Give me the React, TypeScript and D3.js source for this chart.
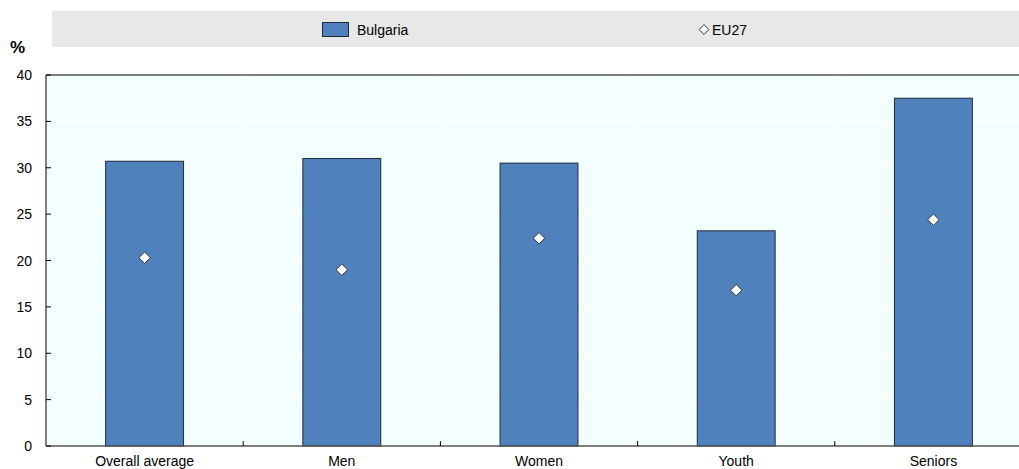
import React from "react";
import * as d3 from "d3";

const categories = ["Overall average", "Men", "Women", "Youth", "Seniors"];
const bulgaria = [30.7, 31.0, 30.5, 23.2, 37.5];
const eu27 = [20.3, 19.0, 22.4, 16.8, 24.4];
const yTicks = [0, 5, 10, 15, 20, 25, 30, 35, 40];

const W = 1019;
const H = 469;
const left = 46;
const right = 1032;
const top = 75;
const bottom = 446;
const font = "'Liberation Sans', Arial, sans-serif";

export default function App() {
  const x = d3.scaleBand<string>().domain(categories).range([left, right]).paddingInner(0).paddingOuter(0);
  const y = d3.scaleLinear().domain([0, 40]).range([bottom, top]);
  const bw = x.bandwidth() * 0.395;
  const diamond = d3.symbol().type(d3.symbolDiamond2).size(85)();
  const legendDiamond = d3.symbol().type(d3.symbolDiamond2).size(60)();

  return (
    <svg width={W} height={H} style={{ position: "absolute", left: 0, top: 0, background: "#fff" }} fontFamily={font}>
      <rect x={52} y={11} width={W - 52} height={36} fill="#e8e8e8" />
      <rect x={322.5} y={22.5} width={26} height={14} fill="#4f81bd" stroke="#1f2a38" strokeWidth={1} />
      <text x={357} y={34.5} fontSize={14} fill="#000">Bulgaria</text>
      <path d={legendDiamond} transform="translate(704,29.5)" fill="#fff" stroke="#333" strokeWidth={1} />
      <text x={712} y={34.5} fontSize={14} fill="#000">EU27</text>

      <text x={10} y={53} fontSize={17} fontWeight="bold" fill="#000">%</text>

      <rect x={left} y={top} width={right - left} height={bottom - top} fill="#f3ffff" />
      {yTicks.map((t) => (
        <line key={"g" + t} x1={left} x2={right} y1={y(t)} y2={y(t)} stroke="#ffffff" strokeWidth={1.2} />
      ))}
      {categories.slice(1).map((c) => (
        <line key={"v" + c} x1={x(c)!} x2={x(c)!} y1={top} y2={bottom} stroke="#ffffff" strokeWidth={1.2} />
      ))}

      {categories.map((c, i) => {
        const cx = x(c)! + x.bandwidth() / 2;
        return (
          <rect key={"b" + c} x={cx - bw / 2} y={y(bulgaria[i])} width={bw} height={bottom - y(bulgaria[i])}
            fill="#4f81bd" stroke="#1f2a38" strokeWidth={1} />
        );
      })}
      {categories.map((c, i) => {
        const cx = x(c)! + x.bandwidth() / 2;
        return (
          <path key={"d" + c} d={diamond} transform={`translate(${cx},${y(eu27[i])})`} fill="#fff" stroke="#333" strokeWidth={1} />
        );
      })}

      <line x1={left} x2={W} y1={top} y2={top} stroke="#555" strokeWidth={1.5} />
      <line x1={left} x2={left} y1={top} y2={bottom} stroke="#000" strokeWidth={1} />
      <line x1={left} x2={W} y1={bottom} y2={bottom} stroke="#555" strokeWidth={1.5} />

      {yTicks.map((t) => (
        <g key={"t" + t}>
          <line x1={left} x2={left + 5} y1={y(t)} y2={y(t)} stroke="#000" strokeWidth={1} />
          <text x={32} y={y(t) + 5} fontSize={14} textAnchor="end" fill="#000">{t}</text>
        </g>
      ))}
      {categories.slice(1).map((c) => (
        <line key={"ct" + c} x1={x(c)!} x2={x(c)!} y1={bottom} y2={bottom - 5} stroke="#000" strokeWidth={1} />
      ))}
      {categories.map((c) => (
        <text key={"l" + c} x={x(c)! + x.bandwidth() / 2} y={466} fontSize={14} textAnchor="middle" fill="#000">{c}</text>
      ))}
    </svg>
  );
}
